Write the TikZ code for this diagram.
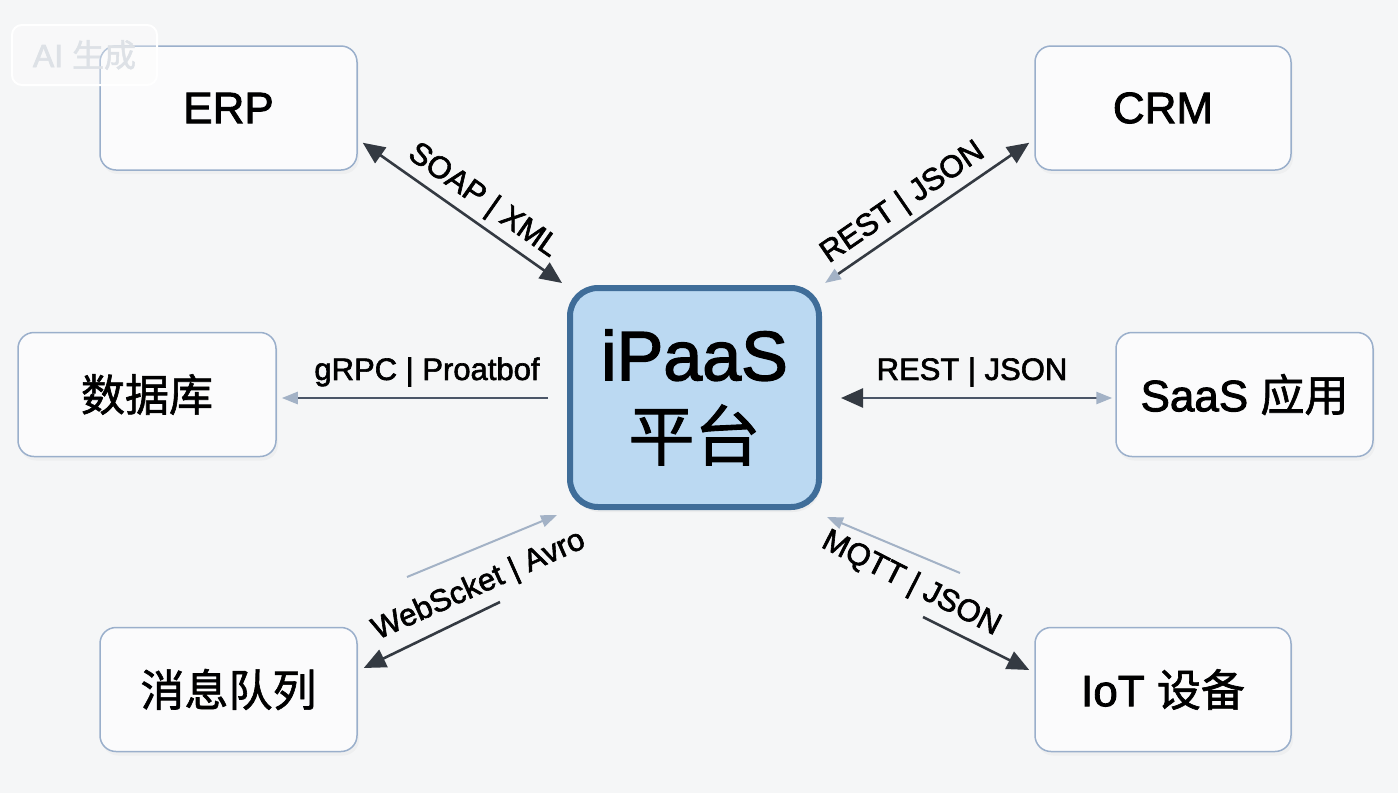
\documentclass[tikz,border=0pt]{standalone}
\usepackage{fontspec}
\setmainfont{Liberation Sans}[FakeBold=2]
\newfontfamily\cjk{Noto Sans CJK SC}[FakeBold=1.4]
\usetikzlibrary{arrows.meta,shadows,calc}
\definecolor{bgc}{HTML}{F5F6F7}
\definecolor{boxline}{HTML}{9AAFCB}
\definecolor{boxfill}{HTML}{FBFBFC}
\definecolor{hubfill}{HTML}{BBD9F2}
\definecolor{hubline}{HTML}{3F6D99}
\definecolor{darkarr}{HTML}{343A42}
\definecolor{midarr}{HTML}{4B5668}
\definecolor{faintarr}{HTML}{A3B2C6}
\definecolor{wmark}{HTML}{DDE1E6}
\tikzset{
  sysbox/.style={draw=boxline, line width=1.5pt, fill=boxfill, rounded corners=16pt,
    minimum width=#1, minimum height=124pt, inner sep=0pt,
    font=\fontsize{44}{50}\selectfont, text=black,
    drop shadow={opacity=0.06, shadow xshift=2pt, shadow yshift=-4pt}},
  hubbox/.style={draw=hubline, line width=6pt, fill=hubfill, rounded corners=28pt,
    minimum width=249pt, minimum height=219pt, inner sep=0pt, align=center,
    font=\fontsize{70}{82}\selectfont, text=black,
    drop shadow={opacity=0.08, shadow xshift=2pt, shadow yshift=-5pt}},
  conn/.style={draw=darkarr, line width=2.6pt},
  darktip/.tip={Triangle[length=22pt,width=19pt,color=darkarr]},
  fainttip/.tip={Triangle[length=16pt,width=12pt,color=faintarr]},
  lbl/.style={font=\fontsize{31}{35}\selectfont, text=black, inner sep=0pt}
}
\begin{document}
\begin{tikzpicture}[x=1pt,y=-1pt]
\useasboundingbox (0,0) rectangle (1398,793);
\fill[bgc] (0,0) rectangle (1398,793);

% nodes
\node[sysbox=257pt] (erp) at (228.5,108) {ERP};
\node[sysbox=256pt] (crm) at (1163,108) {CRM};
\node[sysbox=258pt] (db) at (147,394.5) {\cjk 数据库};
\node[sysbox=257pt] (saas) at (1244.5,394.5) {SaaS {\cjk 应用}};
\node[sysbox=257pt] (mq) at (228.5,689.5) {\cjk 消息队列};
\node[sysbox=256pt] (iot) at (1163,689.5) {IoT {\cjk 设备}};
\node[hubbox] (hub) at (694.5,397.5) {iPaaS\\[-2pt]{\cjk\fontsize{66}{80}\selectfont 平台}};

% ERP <-> hub
\draw[conn, darktip-darktip] ($(erp.south east)+(5,-28)$) -- ($(hub.north west)+(-5,-2)$);
\node[lbl, rotate=-35] (l1) at (483,201) {SOAP | XML};

% hub -> CRM
\draw[conn, fainttip-darktip] ($(hub.north east)+(3,-2)$) -- ($(crm.south west)+(-5,-28)$);
\node[lbl, rotate=34.5] (l2) at (903,203) {REST | JSON};

% hub -> DB
\draw[draw=midarr, line width=2.6pt, -fainttip] ($(hub.west)+(-19,0.5)$) -- ($(db.east)+(5,3.5)$);
\node[lbl] (l3) at (427,372) {gRPC | Proatbof};

% SaaS -> hub
\draw[draw=midarr, line width=2.6pt, fainttip-darktip] ($(saas.west)+(-3,3.5)$) -- ($(hub.east)+(19,0.5)$);
\node[lbl] (l4) at (972,372) {REST | JSON};

% MQ <-> hub
\coordinate (mqa) at (407,577);
\coordinate (mqb) at (500,602);
\draw[draw=faintarr, line width=2pt, -fainttip] (mqa) -- ($(hub.south west)+(-10,5)$);
\draw[conn, -darktip] (mqb) -- ($(mq.east)+(6,-21.5)$);
\node[lbl, rotate=24] (l5) at (479,586) {WebScket | Avro};

% hub <-> IoT
\coordinate (iota) at (960,573);
\coordinate (iotb) at (923,617);
\draw[draw=faintarr, line width=2pt, -fainttip] (iota) -- ($(hub.south east)+(5,7)$);
\draw[conn, -darktip] (iotb) -- ($(iot.west)+(-5,-19.5)$);
\node[lbl, rotate=-27] (l6) at (911,584) {MQTT | JSON};

% watermark (on top)
\node[draw=white, line width=2pt, rounded corners=10pt, fill=white, fill opacity=0.3,
  text opacity=1, text=wmark, minimum width=145pt, minimum height=60pt,
  font=\fontsize{32}{36}\selectfont] (wm) at (84.5,55) {AI {\cjk 生成}};
\end{tikzpicture}
\end{document}
